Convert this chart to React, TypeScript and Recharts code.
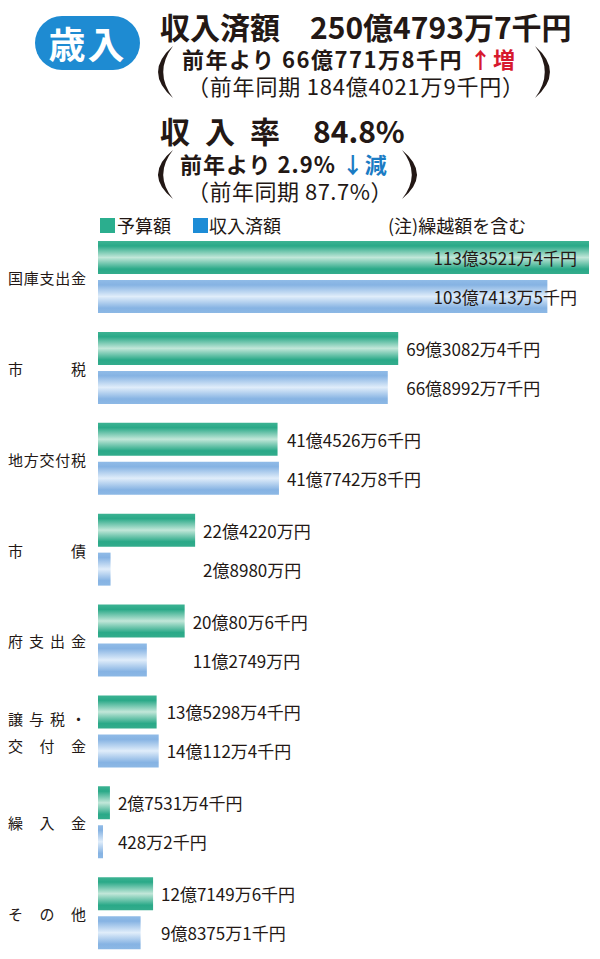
import { BarChart, Bar, XAxis, YAxis, LabelList } from 'recharts'

const categories = ['国庫支出金', '市税', '地方交付税', '市債', '府支出金', '譲与税・\n交付金', '繰入金', 'その他']
// 億円
const budget = [113.35214, 69.30824, 41.45266, 22.422, 20.00806, 13.52984, 2.75314, 12.71496]
const received = [103.74135, 66.89927, 41.77428, 2.898, 11.2749, 14.01124, 0.04282, 9.83751]
const budgetLabels = [
  '113億3521万4千円',
  '69億3082万4千円',
  '41億4526万6千円',
  '22億4220万円',
  '20億80万6千円',
  '13億5298万4千円',
  '2億7531万4千円',
  '12億7149万6千円',
]
const receivedLabels = [
  '103億7413万5千円',
  '66億8992万7千円',
  '41億7742万8千円',
  '2億8980万円',
  '11億2749万円',
  '14億112万4千円',
  '428万2千円',
  '9億8375万1千円',
]

const data = categories.map((name, i) => ({
  name,
  budget: budget[i],
  received: received[i],
}))

const FONT = '"Noto Sans CJK JP", "Noto Sans", sans-serif'
const INK = '#231815'
const W = 600
const H = 959
const MARGIN = { top: 232, right: 11, bottom: 0, left: 0 }
const AXIS_W = 98
const xMax = budget[0]
const pxPerUnit = (W - MARGIN.right - AXIS_W) / xMax

function CategoryTick(props: any) {
  const { y, payload } = props
  const lines: string[] = String(payload.value).split('\n')
  const fs = 15
  const left = 8
  const right = 86
  return (
    <g>
      {lines.map((line, li) => {
        const chars = line.split('')
        const step = chars.length > 1 ? (right - left - fs) / (chars.length - 1) : 0
        const cy = y + (li - (lines.length - 1) / 2) * 27
        return chars.map((c, ci) => (
          <text
            key={li + '-' + ci}
            x={left + fs / 2 + ci * step}
            y={cy}
            textAnchor="middle"
            dominantBaseline="central"
            fontSize={fs}
            fontFamily={FONT}
            fill={INK}
          >
            {c}
          </text>
        ))
      })}
    </g>
  )
}

function makeValueLabel(labels: string[]) {
  return (props: any) => {
    const { x, y, height, index } = props
    const m = Math.max(budget[index], received[index])
    const end = x + m * pxPerUnit
    const inside = end + 150 > W
    return (
      <text
        x={inside ? end - 12 : end + 8}
        y={y + height / 2}
        textAnchor={inside ? 'end' : 'start'}
        dominantBaseline="central"
        fontSize={17}
        fontFamily={FONT}
        fill="#231815"
      >
        {labels[index]}
      </text>
    )
  }
}

function Paren({ x, y, h, right }: { x: number; y: number; h: number; right?: boolean }) {
  const w = 13
  const d = right
    ? `M${x},${y} Q${x + w * 2.3},${y + h / 2} ${x},${y + h} Q${x + w * 1.5},${y + h / 2} ${x},${y} Z`
    : `M${x + w},${y} Q${x - w * 1.3},${y + h / 2} ${x + w},${y + h} Q${x - w * 0.5},${y + h / 2} ${x + w},${y} Z`
  return (
    <svg style={{ position: 'absolute', left: 0, top: 0 }} width={W} height={220}>
      <path d={d} fill={INK} />
    </svg>
  )
}

const abs = (left: number, top: number, extra: any = {}) => ({
  position: 'absolute' as const,
  left,
  top,
  whiteSpace: 'nowrap' as const,
  lineHeight: 1,
  fontFamily: FONT,
  color: INK,
  ...extra,
})

export default function App() {
  return (
    <div style={{ position: 'absolute', left: 0, top: 0, width: W, height: H, background: '#fff', overflow: 'hidden' }}>
      {/* badge */}
      <div
        style={abs(35, 16, {
          width: 105,
          height: 54,
          borderRadius: 27,
          background: '#1E8BD2',
          color: '#fff',
          fontSize: 37,
          fontWeight: 700,
          display: 'flex',
          alignItems: 'center',
          justifyContent: 'center',
          letterSpacing: 2,
        })}
      >
        歳入
      </div>

      <div style={abs(160, 11, { fontSize: 30, fontWeight: 700 })}>
        収入済額<span style={{ marginLeft: 30 }}>250億4793万7千円</span>
      </div>
      <div style={abs(182, 47, { fontSize: 22, fontWeight: 700, letterSpacing: 1.5 })}>
        前年より 66億771万8千円 <span style={{ color: '#D7192E' }}>↑増</span>
      </div>
      <div style={abs(187, 74, { fontSize: 22, fontWeight: 400, letterSpacing: 0.8 })}>（前年同期 184億4021万9千円）</div>

      <div style={abs(160, 115, { fontSize: 30, fontWeight: 700 })}>
        <span style={{ letterSpacing: 15 }}>収入率</span>
        <span style={{ marginLeft: 18 }}>84.8%</span>
      </div>
      <div style={abs(180, 152, { fontSize: 22, fontWeight: 700, letterSpacing: 1 })}>
        前年より 2.9% <span style={{ color: '#1B7CC4' }}>↓減</span>
      </div>
      <div style={abs(187, 179, { fontSize: 22, fontWeight: 400, letterSpacing: 0.5 })}>（前年同期 87.7%）</div>

      <Paren x={160} y={46} h={52} />
      <Paren x={535} y={46} h={52} right />
      <Paren x={160} y={150} h={49} />
      <Paren x={402} y={150} h={49} right />

      {/* legend */}
      <div style={abs(100, 218, { width: 15, height: 15, background: '#2BAE8E' })} />
      <div style={abs(117, 216, { fontSize: 18 })}>予算額</div>
      <div style={abs(193, 218, { width: 15, height: 15, background: '#1D8CD6' })} />
      <div style={abs(209, 216, { fontSize: 18 })}>収入済額</div>
      <div style={abs(388, 216, { fontSize: 18 })}>(注)繰越額を含む</div>

      <div style={{ position: 'absolute', left: 0, top: 0 }}>
        <BarChart
          width={W}
          height={H}
          data={data}
          layout="vertical"
          margin={MARGIN}
          barSize={33}
          barGap={6}
        >
          <defs>
            <linearGradient id="gradBudget" x1="0" y1="0" x2="0" y2="1">
              <stop offset="0%" stopColor="#3DB393" />
              <stop offset="15%" stopColor="#2AA988" />
              <stop offset="50%" stopColor="#C2E7D9" />
              <stop offset="85%" stopColor="#2AA988" />
              <stop offset="100%" stopColor="#33AC8C" />
            </linearGradient>
            <linearGradient id="gradReceived" x1="0" y1="0" x2="0" y2="1">
              <stop offset="0%" stopColor="#90BBE7" />
              <stop offset="15%" stopColor="#86B3E3" />
              <stop offset="50%" stopColor="#E0EDFA" />
              <stop offset="85%" stopColor="#86B3E3" />
              <stop offset="100%" stopColor="#8CB8E5" />
            </linearGradient>
          </defs>
          <XAxis type="number" domain={[0, xMax]} hide />
          <YAxis
            type="category"
            dataKey="name"
            width={AXIS_W}
            axisLine={false}
            tickLine={false}
            tick={<CategoryTick />}
            interval={0}
          />
          <Bar dataKey="budget" fill="url(#gradBudget)" minPointSize={5} isAnimationActive={false}>
            <LabelList dataKey="budget" content={makeValueLabel(budgetLabels)} />
          </Bar>
          <Bar dataKey="received" fill="url(#gradReceived)" minPointSize={5} isAnimationActive={false}>
            <LabelList dataKey="received" content={makeValueLabel(receivedLabels)} />
          </Bar>
        </BarChart>
      </div>
    </div>
  )
}
